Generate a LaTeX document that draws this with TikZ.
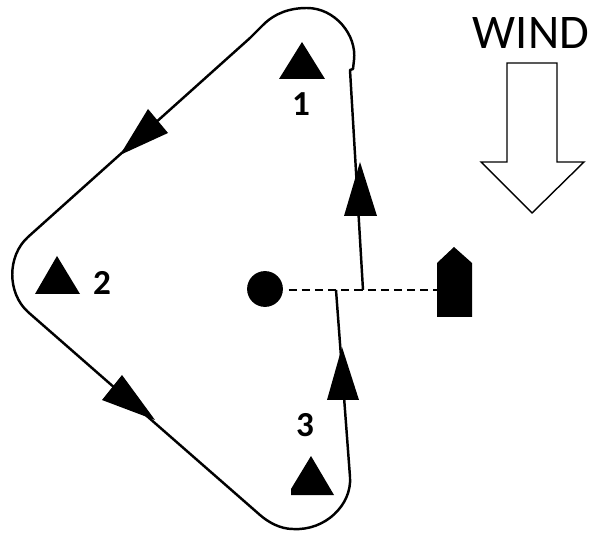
\documentclass[tikz,border=0pt]{standalone}
\usepackage{fontspec}
\setmainfont{Carlito}
\tikzset{
  course/.style={line width=1.4pt,line join=round},
  marknum/.style={font=\fontsize{20}{20}\selectfont\bfseries,inner sep=0pt},
  pin/.style={circle,fill=black,minimum size=20.4pt,inner sep=0pt},
}
\begin{document}
\begin{tikzpicture}[x=0.02cm,y=-0.02cm]
  \useasboundingbox (0,0) rectangle (595,533);
  % start line between pin and boat:
  \node[pin] (pin) at (265,289) {};
  \coordinate (boat) at (437,290);
  \draw[line width=1pt,dash pattern=on 4.6pt off 2.9pt,shorten <=3pt] (pin.east |- boat) -- (boat);
  \fill (437,263) -- (454,247) -- (472,263) -- (472,317) -- (437,317) --cycle;
  % course sailed round the marks:
  \coordinate (start) at (336,290);
  \coordinate (finish) at (363,290);
  \draw[course] (start) -- (350,477)
    .. controls (352,505) and (325,531) .. (293,529)
    .. controls (280,529) and (268,522) .. (260,515)
    -- (28,312)
    .. controls (7,293) and (7,256) .. (28,237)
    -- (250,38)
    -- (263,25)
    .. controls (275,13) and (290,8) .. (307,8)
    .. controls (335,8) and (357,35) .. (354,60)
    -- (353,69) -- (350,70) -- (finish);
  % arrowheads on the course:
  \fill (360,162) -- (377,216) -- (344,216) --cycle;
  \fill (342,347) -- (359,400) -- (327,400) --cycle;
  \fill (120,155) -- (148,109) -- (168,133) --cycle;
  \fill (155,420) -- (122,375) -- (102,400) --cycle;
  % marks with their numbers:
  \fill (302,42) -- (325,79) -- (279,79) --cycle;
  \fill (57,256) -- (80,294) -- (35,294) --cycle;
  \fill (311,456) -- (334,495) -- (291,495) -- (291,489) --cycle;
  \node[marknum] (one) at (301,104) {1};
  \node[marknum] (two) at (102,283) {2};
  \node[marknum] (three) at (305,425) {3};
  % wind arrow:
  \node[font=\fontsize{27.5}{27.5}\selectfont,inner sep=0pt] (wind) at (531,33) {WIND};
  \draw[line width=0.8pt,line join=miter] (507,63) -- (557,63) -- (557,162) -- (584,162)
    -- (532,213) -- (481,162) -- (507,162) --cycle;
\end{tikzpicture}
\end{document}
